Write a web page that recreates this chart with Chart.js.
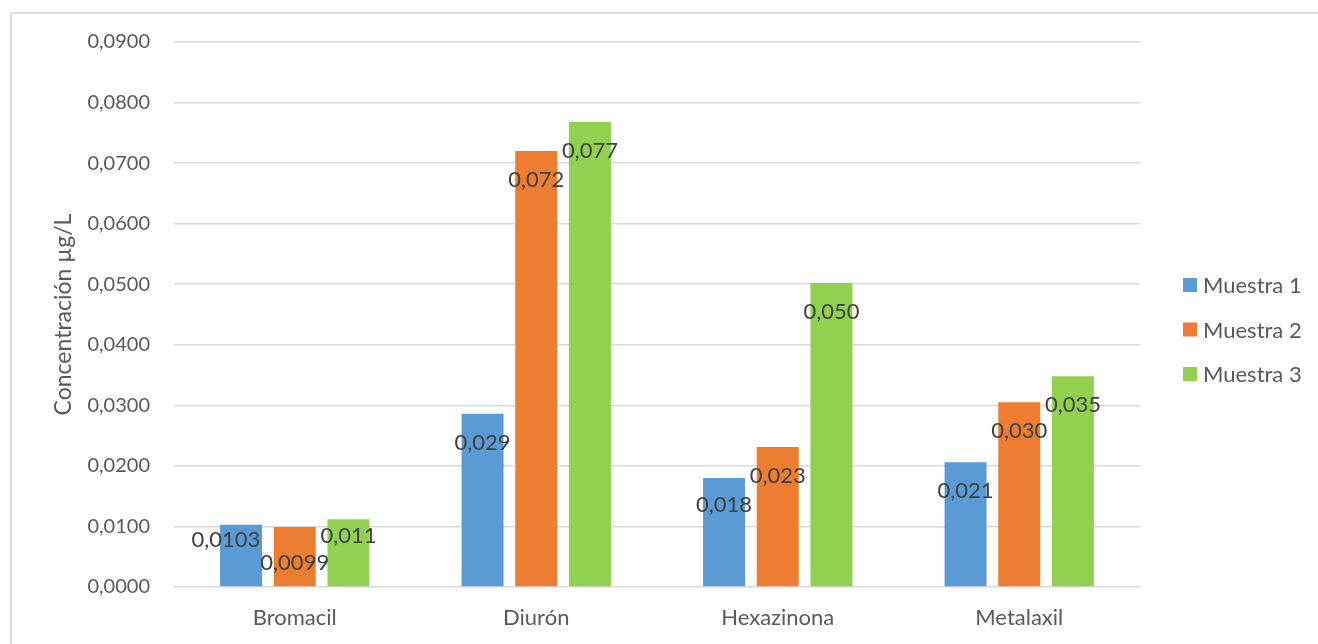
<!DOCTYPE html>
<html>
<head>
<meta charset="utf-8">
<script src="https://cdn.jsdelivr.net/npm/chart.js@4.4.0/dist/chart.umd.min.js"></script>
<style>
  html, body { margin: 0; padding: 0; background: #fff; overflow: hidden; }
  #wrap { position: absolute; left: 0; top: 0; width: 1318px; height: 644px; }
  #frame { position: absolute; left: 10px; top: 12px; width: 2000px; height: 2000px;
           border-top: 2px solid #dcdcdc; border-left: 2px solid #dcdcdc; pointer-events: none; }
</style>
</head>
<body>
<div id="wrap"><canvas id="chart" width="1318" height="644"></canvas></div>
<div id="frame"></div>
<script>
var categories = ["Bromacil", "Diurón", "Hexazinona", "Metalaxil"];
var muestra1 = [0.0103, 0.0286, 0.0180, 0.0206];
var muestra2 = [0.0099, 0.0720, 0.0231, 0.0305];
var muestra3 = [0.0112, 0.0768, 0.0502, 0.0348];
// labels as shown on the bars
var labels1 = ["0,0103", "0,029", "0,018", "0,021"];
var labels2 = ["0,0099", "0,072", "0,023", "0,030"];
var labels3 = ["0,011", "0,077", "0,050", "0,035"];
var yTicks = { min: 0, max: 0.09, step: 0.01 };

var FONT = "Lato";

// inside-end data labels, pushed down/left when they collide
var barLabels = {
  id: 'barLabels',
  afterDatasetsDraw: function(chart) {
    var ctx = chart.ctx;
    var texts = [labels1, labels2, labels3];
    ctx.save();
    ctx.font = '22px ' + FONT;
    ctx.fillStyle = '#404040';
    ctx.textAlign = 'center';
    ctx.textBaseline = 'middle';
    for (var c = 0; c < categories.length; c++) {
      var boxes = [];
      for (var d = 0; d < chart.data.datasets.length; d++) {
        var bar = chart.getDatasetMeta(d).data[c];
        var h = bar.base - bar.y;
        var t = texts[d][c];
        var w = ctx.measureText(t).width;
        var b = { x: bar.x, y: bar.y + Math.min(29, h / 4), w: w, h: 23, t: t };
        var prev = boxes[boxes.length - 1];
        if (prev) {
          var ox = (prev.x + prev.w / 2) - (b.x - b.w / 2);
          var oy = Math.min(prev.y + prev.h / 2, b.y + b.h / 2) - Math.max(prev.y - prev.h / 2, b.y - b.h / 2);
          if (ox > 0 && oy > 0) {
            prev.x -= ox;
            b.y = prev.y + prev.h;
          }
        }
        boxes.push(b);
      }
      boxes.forEach(function(b) { ctx.fillText(b.t, b.x, b.y); });
    }
    ctx.restore();
  }
};

// legend drawn to the right of the plot, Excel style
var sideLegend = {
  id: 'sideLegend',
  afterDraw: function(chart) {
    var ctx = chart.ctx;
    var area = chart.chartArea;
    var x = area.right + 43;
    var mid = (area.top + area.bottom) / 2 + 15;
    var n = chart.data.datasets.length;
    ctx.save();
    ctx.font = '22px ' + FONT;
    ctx.textBaseline = 'middle';
    chart.data.datasets.forEach(function(ds, i) {
      var y = mid + (i - (n - 1) / 2) * 44.5;
      ctx.fillStyle = ds.backgroundColor;
      ctx.fillRect(x, y - 7, 14, 14);
      ctx.fillStyle = '#595959';
      ctx.fillText(ds.label, x + 20, y + 1);
    });
    ctx.restore();
  }
};

new Chart(document.getElementById('chart'), {
  type: 'bar',
  data: {
    labels: categories,
    datasets: [
      { label: 'Muestra 1', data: muestra1, backgroundColor: '#5B9BD5' },
      { label: 'Muestra 2', data: muestra2, backgroundColor: '#ED7D31' },
      { label: 'Muestra 3', data: muestra3, backgroundColor: '#92D050' }
    ]
  },
  options: {
    responsive: false,
    animation: false,
    categoryPercentage: 0.667,
    barPercentage: 0.782,
    layout: { padding: { left: 50, top: 42, right: 178, bottom: 0 } },
    plugins: {
      legend: { display: false },
      tooltip: { enabled: false }
    },
    scales: {
      x: {
        grid: { display: false },
        border: { display: false },
        ticks: { color: '#595959', font: { family: FONT, size: 22, lineHeight: 1 }, padding: 12 },
        afterFit: function(s) { s.height = 57; }
      },
      y: {
        min: yTicks.min, max: yTicks.max,
        grid: { color: '#d9d9d9', lineWidth: 1.5, drawTicks: false },
        border: { display: false },
        ticks: {
          stepSize: yTicks.step, padding: 24, color: '#595959',
          font: { family: FONT, size: 20 },
          callback: function(v) { return v.toFixed(4).replace('.', ','); }
        },
        title: {
          display: true, text: 'Concentración µg/L', color: '#595959',
          font: { family: FONT, size: 23 }, padding: 0
        },
        afterFit: function(s) { s.width = 124; }
      }
    }
  },
  plugins: [barLabels, sideLegend]
});
</script>
</body>
</html>
